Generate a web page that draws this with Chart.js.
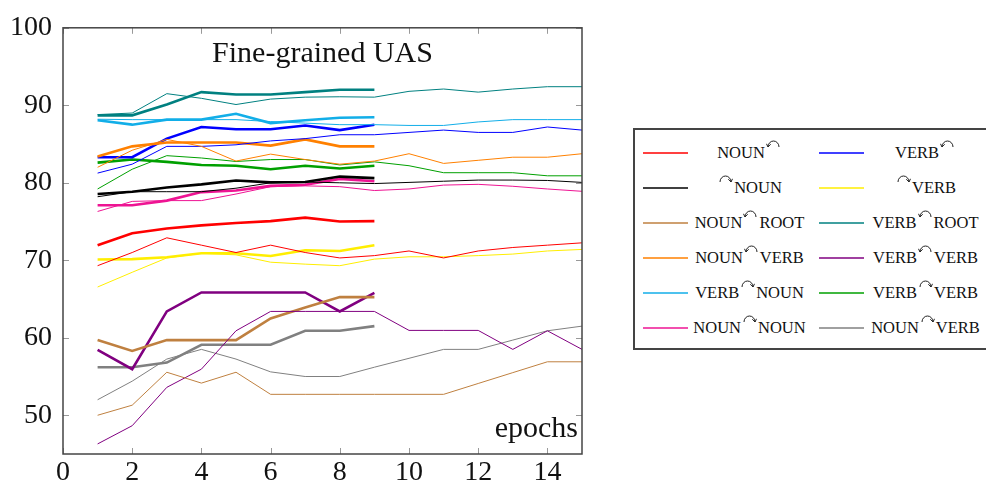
<!DOCTYPE html>
<html lang="en">
<head>
<meta charset="UTF-8">
<title>Fine-grained UAS</title>
<script src="https://cdn.jsdelivr.net/npm/chart.js@4.4.1/dist/chart.umd.min.js"></script>
<style>
    *{box-sizing:border-box}
    body{margin:0;background:#fff;width:986px;height:485px;overflow:hidden;position:relative;font-family:'Liberation Serif',serif}
    #plot{position:absolute;left:0;top:0;width:600px;height:485px}
    #legend{position:absolute;left:633px;top:128px;width:370px;height:222px;border:2px solid #444}
    .item{position:absolute;width:176px;height:35px;display:flex;align-items:center}
    .swatch{width:45px;height:2px;margin-left:8px;flex:none;opacity:0.75}
    .lbl{flex:1;text-align:center;font-size:16.5px;color:#111;white-space:nowrap}
    .arc{position:relative;top:-10px;margin:0 1px}
</style>
</head>
<body>
<div id="plot"><canvas id="chart"></canvas></div>
<div id="legend"></div>

<script>
    // Epochs and axis ticks
    const epochs = [1, 2, 3, 4, 5, 6, 7, 8, 9, 10, 11, 12, 13, 14, 15];
    const xTicks = [0, 2, 4, 6, 8, 10, 12, 14];
    const yTicks = [50, 60, 70, 80, 90, 100];

    // Legend labels, left column then right column
    const labels = ['NOUN↶', '↷NOUN', 'NOUN↶ROOT', 'NOUN↶VERB', 'VERB↷NOUN', 'NOUN↷NOUN',
                    'VERB↶', '↷VERB', 'VERB↶ROOT', 'VERB↶VERB', 'VERB↷VERB', 'NOUN↷VERB'];
    const colors = ['#ff0000', '#000000', '#bf8040', '#ff8000', '#12aee8', '#ee1493',
                    '#0000ff', '#ffee00', '#008080', '#800080', '#00a000', '#808080'];

    // Long runs (15 epochs, thin lines)
    const nounLeftLong      = [69.3, 71.0, 72.9, 71.95, 71.0, 71.95, 71.0, 70.3, 70.6, 71.2, 70.3, 71.2, 71.65, 71.95, 72.25];
    const nounRightLong     = [78.2, 78.85, 78.85, 78.85, 79.3, 80.0, 80.1, 80.0, 79.9, 80.05, 80.2, 80.35, 80.35, 80.3, 80.05];
    const nounRootLong      = [50.0, 51.3, 55.55, 54.15, 55.55, 52.7, 52.7, 52.7, 52.7, 52.7, 52.7, 54.1, 55.5, 56.9, 56.9];
    const nounVerbLeftLong  = [82.0, 84.2, 85.6, 84.7, 82.8, 83.7, 83.0, 82.4, 82.8, 83.75, 82.5, 82.9, 83.3, 83.3, 83.75];
    const verbNounLong      = [88.2, 88.15, 88.15, 88.15, 88.15, 87.9, 87.7, 87.5, 87.5, 87.4, 87.4, 87.85, 88.15, 88.15, 88.15];
    const nounNounLong      = [76.3, 77.6, 77.7, 77.7, 78.55, 79.5, 79.6, 79.5, 79.0, 79.2, 79.7, 79.8, 79.55, 79.2, 78.9];
    const verbLeftLong      = [81.25, 82.4, 84.7, 84.7, 84.9, 85.4, 85.7, 86.2, 86.2, 86.5, 86.8, 86.5, 86.5, 87.2, 86.8];
    const verbRightLong     = [66.55, 68.45, 70.3, 70.9, 70.7, 69.75, 69.5, 69.3, 70.15, 70.45, 70.45, 70.6, 70.8, 71.2, 71.4];
    const verbRootLong      = [88.8, 89.0, 91.5, 90.9, 90.1, 90.8, 91.05, 91.1, 91.05, 91.8, 92.1, 91.7, 92.1, 92.4, 92.4];
    const verbVerbLeftLong  = [46.3, 48.65, 53.6, 55.95, 60.9, 63.4, 63.4, 63.4, 63.4, 60.95, 60.95, 60.95, 58.5, 60.9, 58.5];
    const verbVerbRightLong = [79.2, 81.75, 83.5, 83.2, 82.75, 83.0, 83.0, 82.3, 82.7, 82.2, 81.3, 81.3, 81.3, 80.9, 80.9];
    const nounVerbRightLong = [52.0, 54.4, 57.25, 58.5, 57.25, 55.6, 55.0, 55.0, 56.2, 57.35, 58.5, 58.5, 59.7, 60.9, 61.5];

    // Short runs (9 epochs, thick lines)
    const nounLeftShort      = [71.95, 73.5, 74.1, 74.5, 74.8, 75.05, 75.5, 75.0, 75.05];
    const nounRightShort     = [78.55, 78.85, 79.4, 79.8, 80.3, 80.05, 80.1, 80.8, 80.6];
    const nounRootShort      = [59.7, 58.3, 59.7, 59.7, 59.7, 62.5, 63.9, 65.25, 65.25];
    const nounVerbLeftShort  = [83.4, 84.7, 85.2, 85.2, 85.2, 84.8, 85.6, 84.7, 84.7];
    const verbNounShort      = [88.07, 87.5, 88.15, 88.15, 88.9, 87.7, 88.07, 88.4, 88.45];
    const nounNounShort      = [77.1, 77.1, 77.7, 78.8, 79.0, 79.6, 79.75, 80.5, 80.2];
    const verbLeftShort      = [83.3, 83.3, 85.7, 87.2, 86.9, 86.9, 87.4, 86.8, 87.5];
    const verbRightShort     = [70.1, 70.15, 70.4, 70.9, 70.9, 70.55, 71.3, 71.2, 71.95];
    const verbRootShort      = [88.7, 88.7, 90.1, 91.7, 91.4, 91.4, 91.7, 92.0, 92.0];
    const verbVerbLeftShort  = [58.45, 55.95, 63.4, 65.85, 65.85, 65.85, 65.85, 63.4, 65.8];
    const verbVerbRightShort = [82.6, 83.0, 82.7, 82.3, 82.2, 81.75, 82.2, 81.85, 82.2];
    const nounVerbRightShort = [56.2, 56.2, 56.8, 59.1, 59.1, 59.1, 60.9, 60.9, 61.5];

    const longRuns = [nounLeftLong, nounRightLong, nounRootLong, nounVerbLeftLong, verbNounLong, nounNounLong,
                      verbLeftLong, verbRightLong, verbRootLong, verbVerbLeftLong, verbVerbRightLong, nounVerbRightLong];
    const shortRuns = [nounLeftShort, nounRightShort, nounRootShort, nounVerbLeftShort, verbNounShort, nounNounShort,
                       verbLeftShort, verbRightShort, verbRootShort, verbVerbLeftShort, verbVerbRightShort, nounVerbRightShort];

    const datasets = [];
    longRuns.forEach((run, i) => datasets.push({label: labels[i], data: run, borderColor: colors[i], borderWidth: 1}));
    shortRuns.forEach((run, i) => datasets.push({label: labels[i], data: run, borderColor: colors[i], borderWidth: 2.6}));

    const tickFont = {family: "'Liberation Serif', serif", size: 28};

    // Frame, inward tick marks and the labels inside the plot
    const framePlugin = {
        id: 'frame',
        afterDraw(chart) {
            const {ctx, chartArea: a, scales: {x, y}} = chart;
            ctx.save();
            ctx.strokeStyle = '#999';
            ctx.lineWidth = 1;
            ctx.beginPath();
            xTicks.forEach(v => {
                const px = Math.round(x.getPixelForValue(v)) + 0.5;
                ctx.moveTo(px, a.bottom); ctx.lineTo(px, a.bottom - 6);
                ctx.moveTo(px, a.top); ctx.lineTo(px, a.top + 6);
            });
            yTicks.forEach(v => {
                const py = Math.round(y.getPixelForValue(v)) + 0.5;
                ctx.moveTo(a.left, py); ctx.lineTo(a.left + 6, py);
                ctx.moveTo(a.right, py); ctx.lineTo(a.right - 6, py);
            });
            ctx.stroke();
            ctx.strokeStyle = '#444';
            ctx.lineWidth = 1.5;
            ctx.strokeRect(a.left, a.top, a.right - a.left, a.bottom - a.top);

            ctx.fillStyle = '#111';
            ctx.font = "30px 'Liberation Serif', serif";
            ctx.textBaseline = 'alphabetic';
            ctx.textAlign = 'center';
            ctx.fillText('Fine-grained UAS', (a.left + a.right) / 2, 62);
            ctx.textAlign = 'right';
            ctx.fillText('epochs', a.right - 4, 437);
            ctx.restore();
        }
    };

    new Chart(document.getElementById('chart'), {
        type: 'line',
        data: {labels: epochs, datasets: datasets},
        options: {
            responsive: true,
            maintainAspectRatio: false,
            animation: false,
            layout: {padding: {top: 24, right: 18, left: 0, bottom: 0}},
            elements: {point: {radius: 0}, line: {tension: 0}},
            plugins: {legend: {display: false}, tooltip: {enabled: false}},
            scales: {
                x: {
                    type: 'linear', min: 0, max: 15,
                    afterBuildTicks: axis => { axis.ticks = xTicks.map(v => ({value: v})); },
                    afterFit: axis => { axis.height = 31; },
                    grid: {display: false, drawTicks: false},
                    border: {display: false},
                    ticks: {font: tickFont, color: '#111', padding: 2, maxRotation: 0}
                },
                y: {
                    min: 45, max: 100,
                    afterBuildTicks: axis => { axis.ticks = yTicks.map(v => ({value: v})); },
                    afterFit: axis => { axis.width = 63; },
                    grid: {display: false, drawTicks: false},
                    border: {display: false},
                    ticks: {font: tickFont, color: '#111', padding: 11}
                }
            }
        },
        plugins: [framePlugin]
    });

    // Legend: two columns, arc glyphs drawn as small svg arrows
    function arcSvg(toRight) {
        const head = toRight ? 'M9.8,7.2 L12.5,10 L14,6.8' : 'M4.2,7.2 L1.5,10 L0,6.8';
        return '<svg class="arc" width="15" height="11" viewBox="0 0 14 11">' +
               '<path d="M1.5,10 A5.5,6 0 0 1 12.5,10" fill="none" stroke="#222" stroke-width="1"/>' +
               '<path d="' + head + '" fill="none" stroke="#222" stroke-width="1"/></svg>';
    }

    const legend = document.getElementById('legend');
    labels.forEach((text, i) => {
        const item = document.createElement('div');
        item.className = 'item';
        item.style.left = (i < 6 ? 0 : 176) + 'px';
        item.style.top = (5 + (i % 6) * 35) + 'px';
        const html = text.replace(/↶/g, arcSvg(false)).replace(/↷/g, arcSvg(true));
        item.innerHTML = '<span class="swatch" style="background:' + colors[i] + '"></span>' +
                         '<span class="lbl">' + html + '</span>';
        legend.appendChild(item);
    });
</script>
</body>
</html>
